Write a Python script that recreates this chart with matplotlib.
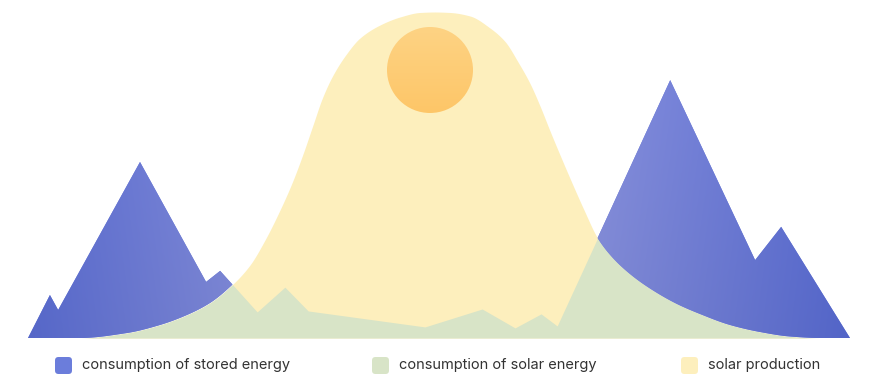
import numpy as np
import matplotlib
matplotlib.use("Agg")
import matplotlib.pyplot as plt
from matplotlib.patches import FancyBboxPatch, Ellipse, PathPatch
from matplotlib.path import Path

# ---- data (hour of day, relative power 0..100) ----
cons_hours = [0.00, 0.64, 0.88, 3.27, 5.20, 5.61, 6.69, 7.50, 8.18, 11.59,
              13.26, 14.22, 14.98, 15.45, 18.75, 21.23, 21.99, 24.00]
cons_values = [0.0, 13.2, 8.6, 54.0, 17.2, 20.6, 8.0, 15.6, 8.3, 3.4,
               8.9, 3.1, 7.4, 3.7, 79.1, 23.9, 34.1, 0.0]

solar_hours = [0.000, 1.518, 2.891, 3.854, 4.642, 5.314, 5.956, 6.482, 6.920, 7.358,
               7.708, 8.029, 8.321, 8.584, 8.876, 9.255, 9.693, 10.277, 10.861, 11.445,
               11.883, 12.321, 12.905, 13.489, 13.927, 14.307, 14.657, 14.949, 15.241, 15.533,
               15.883, 16.234, 16.613, 17.051, 17.577, 18.161, 18.949, 19.620, 20.496, 21.372,
               22.248, 23.124, 24.000]
solar_values = [0.00, 0.00, 1.53, 3.99, 7.06, 10.74, 16.26, 22.39, 30.06, 39.26,
                47.55, 56.44, 65.34, 73.31, 80.06, 86.50, 92.02, 96.01, 98.47, 99.85,
                100.00, 99.85, 98.77, 95.09, 90.95, 84.66, 78.07, 71.17, 63.50, 56.13,
                47.55, 39.26, 30.98, 24.85, 19.63, 15.18, 10.43, 7.36, 3.99, 1.84,
                0.46, 0.00, 0.00]

legend_labels = ["consumption of stored energy", "consumption of solar energy", "solar production"]


def pchip(x, y, xn):
    """Shape-preserving cubic curve through the given points (for smooth drawing)."""
    x = np.asarray(x, float)
    y = np.asarray(y, float)
    h = np.diff(x)
    delta = np.diff(y) / h
    m = np.zeros_like(y)
    for k in range(1, len(x) - 1):
        if delta[k - 1] * delta[k] > 0:
            w1 = 2 * h[k] + h[k - 1]
            w2 = h[k] + 2 * h[k - 1]
            m[k] = (w1 + w2) / (w1 / delta[k - 1] + w2 / delta[k])
    idx = np.clip(np.searchsorted(x, xn) - 1, 0, len(x) - 2)
    t = (xn - x[idx]) / h[idx]
    h00 = 2 * t**3 - 3 * t**2 + 1
    h10 = t**3 - 2 * t**2 + t
    h01 = -2 * t**3 + 3 * t**2
    h11 = t**3 - t**2
    return h00 * y[idx] + h10 * h[idx] * m[idx] + h01 * y[idx + 1] + h11 * h[idx] * m[idx + 1]


# ---- colours ----
c_yellow = "#fdefbd"
c_green = "#d8e4c7"
c_blue = "#6b7ddb"
c_sun_top = np.array([0xfd, 0xd3, 0x84]) / 255
c_sun_bot = np.array([0xfe, 0xc6, 0x68]) / 255

W, H = 878, 384
fig = plt.figure(figsize=(W / 100, H / 100), dpi=100)
ax = fig.add_axes([28 / W, (H - 338) / H, 822 / W, 326 / H])
ax.set_xlim(0, 24)
ax.set_ylim(0, 100)
ax.axis("off")

xg = np.linspace(0, 24, 4001)
cg = np.interp(xg, cons_hours, cons_values)
sg = np.clip(pchip(solar_hours, solar_values, xg), 0, None)
gg = np.minimum(cg, sg)

# solar production (back)
ax.fill_between(xg, 0, sg, color=c_yellow, lw=0, zorder=1)

# consumption of solar energy
ax.fill_between(xg, 0, gg, color=c_green, lw=0, zorder=2)

# consumption of stored energy (gradient, clipped)
blue = ax.fill_between(xg, sg, cg, where=cg > sg, interpolate=True,
                       color=c_blue, lw=0, zorder=3)
paths = blue.get_paths()
clip = PathPatch(Path.make_compound_path(*paths), transform=ax.transData,
                 facecolor="none", edgecolor="none")
nx, ny = 600, 200
px = np.linspace(28, 850, nx)
d = np.abs(px - 430)
t = np.clip((d - 150) / (420 - 150), 0, 1)
light = np.array([0x8a, 0x93, 0xe0]) / 255
dark = np.array([0x58, 0x6b, 0xd4]) / 255
row = light[None, :] * (1 - t[:, None]) + dark[None, :] * t[:, None]
vy = np.linspace(0, 1, ny)[:, None, None]
img = row[None, :, :] * (1 - 0.06 * (1 - vy))
img = np.clip(img, 0, 1)
im = ax.imshow(img, extent=(0, 24, 0, 100), origin="lower", aspect="auto",
               zorder=4, interpolation="bilinear")
im.set_clip_path(clip)

# sun
sun_h, sun_v = (430 - 28) / 34.25, (338 - 70) / 3.26
sw, sh = 86 / 34.25, 86 / 3.26
grad = np.linspace(0, 1, 100)[:, None, None]
sun_img = c_sun_bot[None, None, :] * (1 - grad) + c_sun_top[None, None, :] * grad
sun_img = np.repeat(sun_img, 10, axis=1)
sun = Ellipse((sun_h, sun_v), sw, sh, transform=ax.transData,
              facecolor="none", edgecolor="none")
ax.add_patch(sun)
sim = ax.imshow(sun_img, extent=(sun_h - sw / 2, sun_h + sw / 2, sun_v - sh / 2, sun_v + sh / 2),
                origin="lower", aspect="auto", zorder=5, interpolation="bilinear")
sim.set_clip_path(sun)
ax.set_xlim(0, 24)
ax.set_ylim(0, 100)

# legend
leg_colors = [c_blue, c_green, c_yellow]
leg_x = [55, 372, 681]
for lab, col, x0 in zip(legend_labels, leg_colors, leg_x):
    sq = FancyBboxPatch((x0 / W, (H - 374) / H), 17 / W, 17 / H,
                        boxstyle="round,pad=0,rounding_size=0.004",
                        transform=fig.transFigure, facecolor=col, edgecolor="none",
                        mutation_aspect=W / H)
    fig.add_artist(sq)
    fig.text((x0 + 27) / W, (H - 365) / H, lab, fontsize=10.5, family="Inter",
             color="#333333", va="center", ha="left")

fig.savefig("out.png", dpi=100)
